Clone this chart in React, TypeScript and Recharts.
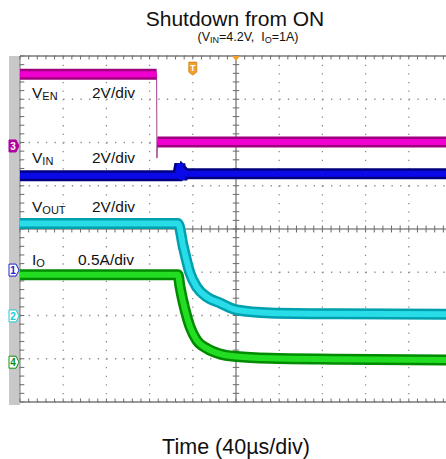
import React from "react";
import {
  CartesianGrid,
  ComposedChart,
  Line,
  ReferenceDot,
  ReferenceLine,
  XAxis,
  YAxis,
} from "recharts";

// time in µs (40 µs/div, trigger at 0); level in screen divisions (0 = bottom edge)
const gridTimes = [-200, -160, -120, -80, -40, 40, 80, 120, 160, 200];
const gridLevels = [0, 1, 2, 3, 5, 6, 7, 8];

const enTime = [-200, -73.5, -73.2, -72.8, 200];
const enLevel = [7.58, 7.58, 5.64, 6.01, 6.01];
const enBand = [7.58, 7.58, null, 6.01, 6.01];

const vinTime = [-200, -54, -52, -50, -48.5, -47, 200];
const vinLevel = [5.23, 5.23, 5.5, 5.15, 5.32, 5.28, 5.28];

const voutTime = [-200, -53.7, -48.8, -42.6, -36.4, -27.1, -14.8, 0.6, 31.5, 93.2, 200];
const voutLevel = [4.13, 4.13, 3.59, 2.98, 2.66, 2.43, 2.29, 2.13, 2.06, 2.04, 2.03];

const ioTime = [-200, -53.7, -51.9, -47.2, -42.6, -36.4, -27.1, -14.8, 0.6, 31.5, 93.2, 200];
const ioLevel = [2.94, 2.94, 2.67, 2.13, 1.74, 1.43, 1.24, 1.11, 1.05, 1.01, 0.99, 0.97];

// channel ground markers
const markerChannels = ["3", "1", "2", "4"];
const markerLevels = [5.92, 3.05, 1.99, 0.92];
const markerColors = ["#b000a0", "#2020d0", "#20c8d8", "#109010"];

const enData = enTime.map((t, i) => ({ t, v: enLevel[i], band: enBand[i] }));
const vinData = vinTime.map((t, i) => ({ t, v: vinLevel[i] }));
const voutData = voutTime.map((t, i) => ({ t, v: voutLevel[i] }));
const ioData = ioTime.map((t, i) => ({ t, v: ioLevel[i] }));

const minorTimes = Array.from({ length: 51 }, (_, i) => -200 + i * 8);
const minorLevels = Array.from({ length: 41 }, (_, i) => +(i * 0.2).toFixed(1));

const font = '"Liberation Sans", Arial, sans-serif';

const Flag = (props: any) => {
  const { cx, cy, label, color, filled } = props;
  const x0 = cx - 11;
  return (
    <g>
      <path
        d={`M${x0},${cy - 6} L${cx - 4},${cy - 6} L${cx - 1},${cy} L${cx - 4},${cy + 6} L${x0},${cy + 6} Z`}
        fill={filled ? color : "#ffffff"}
        stroke={color}
        strokeWidth={1}
      />
      <text
        x={x0 + 4}
        y={cy + 4}
        fontSize={10}
        fontWeight="bold"
        fontFamily={font}
        textAnchor="middle"
        fill={filled ? "#ffffff" : color}
      >
        {label}
      </text>
    </g>
  );
};

const TriggerFlag = (props: any) => {
  const { cx, cy } = props;
  return (
    <g>
      <path
        d={`M${cx - 4},${cy - 6} L${cx + 4},${cy - 6} L${cx + 4},${cy + 4} L${cx},${cy + 7} L${cx - 4},${cy + 4} Z`}
        fill="#f0a030"
        stroke="#d08010"
        strokeWidth={0.8}
      />
      <text x={cx} y={cy + 3} fontSize={9} fontWeight="bold" fontFamily={font} textAnchor="middle" fill="#ffffff">
        T
      </text>
    </g>
  );
};

const TopArrow = (props: any) => {
  const { cx, cy } = props;
  return <path d={`M${cx - 4},${cy} L${cx + 4},${cy} L${cx},${cy + 5} Z`} fill="#f0a030" />;
};

const labelStyle = (left: number, baseline: number): React.CSSProperties => ({
  position: "absolute",
  left,
  top: baseline - 13,
  fontSize: 15.5,
  lineHeight: 1,
  fontFamily: font,
  color: "#111",
  whiteSpace: "nowrap",
});

const TraceLabel = ({ name, sub, scale, left, baseline, scaleLeft }: any) => (
  <>
    <div style={labelStyle(left, baseline)}>
      {name}
      <span style={{ fontSize: 11, verticalAlign: -2 }}>{sub}</span>
    </div>
    <div style={labelStyle(scaleLeft, baseline)}>{scale}</div>
  </>
);

const Band = ({ data, dataKey = "v", dark, bright, type = "linear" }: any) => [
  <Line
    key="o"
    data={data}
    dataKey={dataKey}
    type={type}
    stroke={dark}
    strokeWidth={11}
    dot={false}
    activeDot={false}
    isAnimationActive={false}
  />,
  <Line
    key="i"
    data={data}
    dataKey={dataKey}
    type={type}
    stroke={bright}
    strokeWidth={6}
    dot={false}
    activeDot={false}
    isAnimationActive={false}
  />,
];

export default function App() {
  return (
    <div
      style={{
        position: "absolute",
        left: 0,
        top: 0,
        width: 446,
        height: 459,
        overflow: "hidden",
        background: "#ffffff",
        fontFamily: font,
      }}
    >
      <div
        style={{
          position: "absolute",
          left: 0,
          width: 470,
          top: 8,
          textAlign: "center",
          fontSize: 21,
          lineHeight: 1,
          color: "#111",
        }}
      >
        Shutdown from ON
      </div>
      <div
        style={{
          position: "absolute",
          left: 0,
          width: 496,
          top: 31,
          textAlign: "center",
          fontSize: 12.5,
          lineHeight: 1,
          color: "#111",
          whiteSpace: "pre",
        }}
      >
        (V<span style={{ fontSize: 9, verticalAlign: -2 }}>IN</span>=4.2V,{"  "}I
        <span style={{ fontSize: 9, verticalAlign: -2 }}>O</span>=1A)
      </div>

      <div
        style={{
          position: "absolute",
          left: 9,
          top: 56,
          width: 11,
          height: 349,
          background: "#c8c8c8",
        }}
      />

      <div style={{ position: "absolute", left: 0, top: 0 }}>
        <ComposedChart
          width={460}
          height={459}
          margin={{ top: 56, right: 8, bottom: 57, left: 20 }}
        >
          <XAxis type="number" dataKey="t" domain={[-200, 200]} ticks={gridTimes} hide allowDataOverflow />
          <YAxis type="number" domain={[0, 8]} ticks={gridLevels} hide allowDataOverflow />
          <CartesianGrid
            verticalValues={gridTimes}
            horizontalValues={gridLevels}
            stroke="#8c8c8c"
            strokeWidth={1.3}
            strokeDasharray="1.3 7.34"
          />
          <ReferenceLine x={0} stroke="#a8a8a8" strokeWidth={2} />
          <ReferenceLine y={4} stroke="#a8a8a8" strokeWidth={2} />
          {minorTimes.map((t) => (
            <ReferenceLine
              key={`hc${t}`}
              segment={[{ x: t, y: 3.92 }, { x: t, y: 4.08 }]}
              stroke="#6a6a6a"
              strokeWidth={1}
            />
          ))}
          {minorTimes.map((t) => (
            <ReferenceLine
              key={`tp${t}`}
              segment={[{ x: t, y: 7.92 }, { x: t, y: 8 }]}
              stroke="#6a6a6a"
              strokeWidth={1}
            />
          ))}
          {minorTimes.map((t) => (
            <ReferenceLine
              key={`bt${t}`}
              segment={[{ x: t, y: 0 }, { x: t, y: 0.08 }]}
              stroke="#6a6a6a"
              strokeWidth={1}
            />
          ))}
          {minorLevels.map((v) => (
            <ReferenceLine
              key={`vc${v}`}
              segment={[{ x: -3, y: v }, { x: 3, y: v }]}
              stroke="#6a6a6a"
              strokeWidth={1}
            />
          ))}
          {minorLevels.map((v) => (
            <ReferenceLine
              key={`lf${v}`}
              segment={[{ x: -200, y: v }, { x: -196, y: v }]}
              stroke="#6a6a6a"
              strokeWidth={1}
            />
          ))}
          <ReferenceLine y={8} stroke="#7a7a7a" strokeWidth={1.5} />
          <ReferenceLine y={0} stroke="#7a7a7a" strokeWidth={1.5} />
          <ReferenceLine x={-200} stroke="#7a7a7a" strokeWidth={1} />

          <Line
            data={enData}
            dataKey="v"
            type="linear"
            stroke="#a0408f"
            strokeWidth={1}
            dot={false}
            activeDot={false}
            isAnimationActive={false}
          />
          {Band({ data: enData, dataKey: "band", dark: "#a0007f", bright: "#f000d0" })}
          {Band({ data: vinData, dark: "#000080", bright: "#0a0ae8" })}
          {Band({ data: voutData, dark: "#00a0ae", bright: "#28dce8", type: "monotone" })}
          {Band({ data: ioData, dark: "#008a00", bright: "#22dd22", type: "monotone" })}

          <ReferenceDot x={-40} y={7.72} ifOverflow="visible" shape={(p: any) => <TriggerFlag {...p} />} />
          <ReferenceDot x={0} y={8} ifOverflow="visible" shape={(p: any) => <TopArrow {...p} />} />
          {markerChannels.map((ch, i) => (
            <ReferenceDot
              key={ch}
              x={-200}
              y={markerLevels[i]}
              ifOverflow="visible"
              shape={(p: any) => (
                <Flag {...p} label={ch} color={markerColors[i]} filled={ch === "3"} />
              )}
            />
          ))}
        </ComposedChart>
      </div>

      <TraceLabel name="V" sub="EN" scale="2V/div" left={32} scaleLeft={92} baseline={98} />
      <TraceLabel name="V" sub="IN" scale="2V/div" left={32} scaleLeft={92} baseline={163} />
      <TraceLabel name="V" sub="OUT" scale="2V/div" left={32} scaleLeft={92} baseline={212} />
      <TraceLabel name="I" sub="O" scale="0.5A/div" left={32} scaleLeft={78} baseline={265} />

      <div
        style={{
          position: "absolute",
          left: 0,
          width: 472,
          top: 437,
          textAlign: "center",
          fontSize: 21.5,
          lineHeight: 1,
          color: "#111",
        }}
      >
        Time (40µs/div)
      </div>
    </div>
  );
}
